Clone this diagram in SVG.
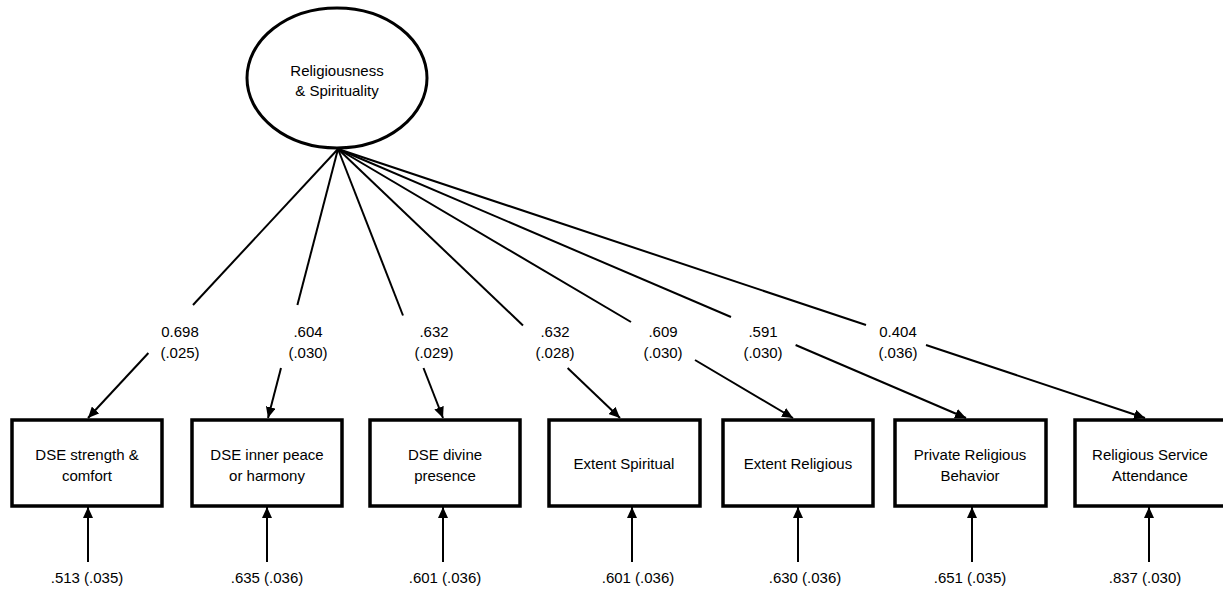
<svg xmlns="http://www.w3.org/2000/svg" width="1223" height="592" viewBox="0 0 1223 592">
  <style>
    text { font-family: "Liberation Sans", Arial, sans-serif; font-size: 15px; fill: #000; text-anchor: middle; }
    .box { fill: #fff; stroke: #000; stroke-width: 3.5; }
    .latent { fill: #fff; stroke: #000; stroke-width: 3; }
    .path { stroke: #000; stroke-width: 2; fill: none; }
    .arrow { stroke: #000; stroke-width: 2; fill: none; marker-end: url(#head); }
  </style>
  <defs>
    <marker id="head" markerUnits="userSpaceOnUse" markerWidth="11" markerHeight="10" refX="11" refY="5" orient="auto">
      <path d="M0,0 L11,5 L0,10 z" fill="#000"/>
    </marker>
  </defs>

  <rect width="1223" height="592" fill="#fff"/>

  <!-- latent factor -->
  <g id="latent">
    <ellipse class="latent" cx="337" cy="78" rx="90" ry="70"/>
    <text x="337" y="76">Religiousness</text>
    <text x="337" y="96">&amp; Spirituality</text>
  </g>

  <!-- loadings: apex to label, label to indicator -->
  <g id="connectors">
    <line class="path" x1="338" y1="149" x2="193" y2="305"/>
    <line class="arrow" x1="148.4" y1="353" x2="88" y2="418"/>
    <line class="path" x1="338" y1="149" x2="297.4" y2="305"/>
    <line class="arrow" x1="281" y1="368" x2="268" y2="418"/>
    <line class="path" x1="338" y1="149" x2="403" y2="315.5"/>
    <line class="arrow" x1="423.5" y1="368" x2="443" y2="418"/>
    <line class="path" x1="338" y1="149" x2="523" y2="325.5"/>
    <line class="arrow" x1="567.6" y1="368" x2="620" y2="418"/>
    <line class="path" x1="338" y1="149" x2="631" y2="322"/>
    <line class="arrow" x1="695" y1="360" x2="793" y2="418"/>
    <line class="path" x1="338" y1="149" x2="731" y2="317"/>
    <line class="arrow" x1="795.6" y1="345" x2="966" y2="418"/>
    <line class="path" x1="338" y1="149" x2="866" y2="325"/>
    <line class="arrow" x1="926" y1="345" x2="1145" y2="418"/>

    <!-- residual arrows -->
    <line class="arrow" x1="88" y1="562" x2="88" y2="507"/>
    <line class="arrow" x1="267" y1="562" x2="267" y2="507"/>
    <line class="arrow" x1="443" y1="562" x2="443" y2="507"/>
    <line class="arrow" x1="632" y1="562" x2="632" y2="507"/>
    <line class="arrow" x1="798" y1="562" x2="798" y2="507"/>
    <line class="arrow" x1="972" y1="562" x2="972" y2="507"/>
    <line class="arrow" x1="1149" y1="562" x2="1149" y2="507"/>
  </g>

  <!-- loading estimates -->
  <g id="loadings">
    <text x="180" y="337">0.698</text><text x="180" y="358">(.025)</text>
    <text x="308" y="337">.604</text><text x="308" y="358">(.030)</text>
    <text x="434" y="337">.632</text><text x="434" y="358">(.029)</text>
    <text x="555" y="337">.632</text><text x="555" y="358">(.028)</text>
    <text x="663" y="337">.609</text><text x="663" y="358">(.030)</text>
    <text x="763" y="337">.591</text><text x="763" y="358">(.030)</text>
    <text x="898" y="337">0.404</text><text x="898" y="358">(.036)</text>
  </g>

  <!-- indicators -->
  <g id="dse-strength">
    <rect class="box" x="12" y="420" width="150" height="86"/>
    <text x="87" y="460">DSE strength &amp;</text>
    <text x="87" y="481">comfort</text>
  </g>
  <g id="dse-peace">
    <rect class="box" x="192" y="420" width="150" height="86"/>
    <text x="267" y="460">DSE inner peace</text>
    <text x="267" y="481">or harmony</text>
  </g>
  <g id="dse-divine">
    <rect class="box" x="370" y="420" width="150" height="86"/>
    <text x="445" y="460">DSE divine</text>
    <text x="445" y="481">presence</text>
  </g>
  <g id="extent-spiritual">
    <rect class="box" x="549" y="420" width="151" height="86"/>
    <text x="624" y="469">Extent Spiritual</text>
  </g>
  <g id="extent-religious">
    <rect class="box" x="723" y="420" width="150" height="86"/>
    <text x="798" y="469">Extent Religious</text>
  </g>
  <g id="private-behavior">
    <rect class="box" x="895" y="420" width="151" height="86"/>
    <text x="970" y="460">Private Religious</text>
    <text x="970" y="481">Behavior</text>
  </g>
  <g id="service-attendance">
    <rect class="box" x="1075" y="420" width="152" height="86"/>
    <text x="1150" y="460">Religious Service</text>
    <text x="1150" y="481">Attendance</text>
  </g>

  <!-- residual variances -->
  <g id="residuals">
    <text x="87" y="583">.513 (.035)</text>
    <text x="267" y="583">.635 (.036)</text>
    <text x="445" y="583">.601 (.036)</text>
    <text x="638" y="583">.601 (.036)</text>
    <text x="805" y="583">.630 (.036)</text>
    <text x="970" y="583">.651 (.035)</text>
    <text x="1145" y="583">.837 (.030)</text>
  </g>
</svg>
